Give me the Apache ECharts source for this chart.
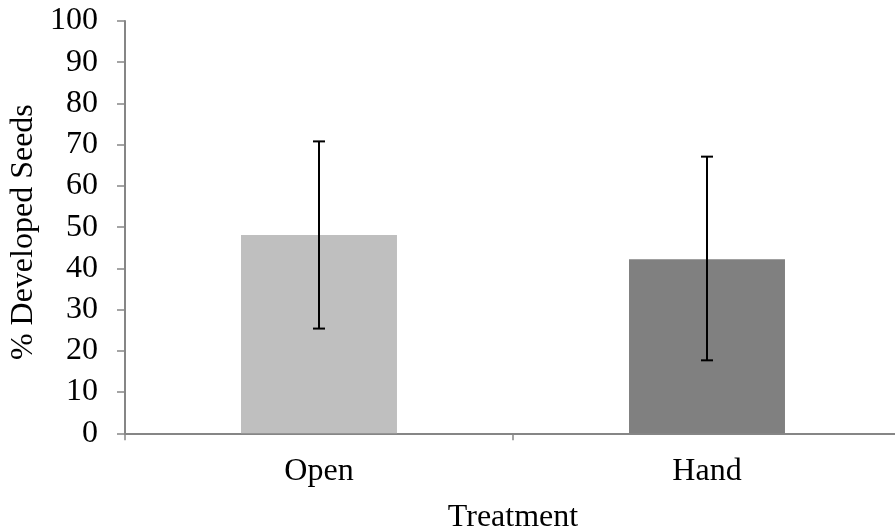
<!DOCTYPE html>
<html>
<head>
<meta charset="utf-8">
<script src="https://cdn.jsdelivr.net/npm/echarts@6/dist/echarts.min.js"></script>
<style>html,body{margin:0;padding:0;background:#fff;}#c{width:895px;height:531px;}</style>
</head>
<body>
<div id="c"></div>
<script>
var categories = ['Open', 'Hand'];
var means = [48.1, 42.2];
var errLow = [25.4, 17.7];
var errHigh = [70.8, 67.1];
var barColors = ['#bfbfbf', '#808080'];
var yTicks = [0, 10, 20, 30, 40, 50, 60, 70, 80, 90, 100];

var chart = echarts.init(document.getElementById('c'), null, {renderer: 'canvas'});
var font = 'Liberation Serif';
chart.setOption({
  animation: false,
  backgroundColor: '#fff',
  grid: {left: 125, top: 21, width: 776, bottom: 97.7, containLabel: false, outerBoundsMode: 'none'},
  xAxis: {
    type: 'category',
    data: categories,
    name: 'Treatment',
    nameLocation: 'middle',
    nameGap: 68,
    nameTextStyle: {fontFamily: font, fontSize: 32, color: '#000'},
    axisLine: {lineStyle: {color: '#868686', width: 2}},
    axisTick: {show: true, length: 7, lineStyle: {color: '#868686', width: 1.5}},
    axisLabel: {fontFamily: font, fontSize: 32, color: '#000', margin: 22}
  },
  yAxis: {
    type: 'value',
    min: yTicks[0],
    max: yTicks[yTicks.length - 1],
    interval: 10,
    name: '% Developed Seeds',
    nameLocation: 'middle',
    nameGap: 85,
    nameTextStyle: {fontFamily: font, fontSize: 32, color: '#000', padding: [0, 10, 0, 0]},
    splitLine: {show: false},
    axisLine: {show: true, lineStyle: {color: '#868686', width: 2}},
    axisTick: {show: true, length: 8, lineStyle: {color: '#868686', width: 1.5}},
    axisLabel: {fontFamily: font, fontSize: 32, color: '#000', margin: 27}
  },
  series: [
    {
      type: 'bar',
      barWidth: '40.2%',
      data: means.map(function (v, i) { return {value: v, itemStyle: {color: barColors[i]}}; })
    },
    {
      type: 'custom',
      z: 10,
      data: categories.map(function (c, i) { return [i, errLow[i], errHigh[i]]; }),
      renderItem: function (params, api) {
        var i = api.value(0);
        var lo = api.coord([i, api.value(1)]);
        var hi = api.coord([i, api.value(2)]);
        var hw = 6;
        var st = {stroke: '#000', lineWidth: 2};
        return {
          type: 'group',
          children: [
            {type: 'line', shape: {x1: lo[0], y1: lo[1], x2: hi[0], y2: hi[1]}, style: st},
            {type: 'line', shape: {x1: hi[0] - hw, y1: hi[1], x2: hi[0] + hw, y2: hi[1]}, style: st},
            {type: 'line', shape: {x1: lo[0] - hw, y1: lo[1], x2: lo[0] + hw, y2: lo[1]}, style: st}
          ]
        };
      }
    }
  ]
});
</script>
</body>
</html>
